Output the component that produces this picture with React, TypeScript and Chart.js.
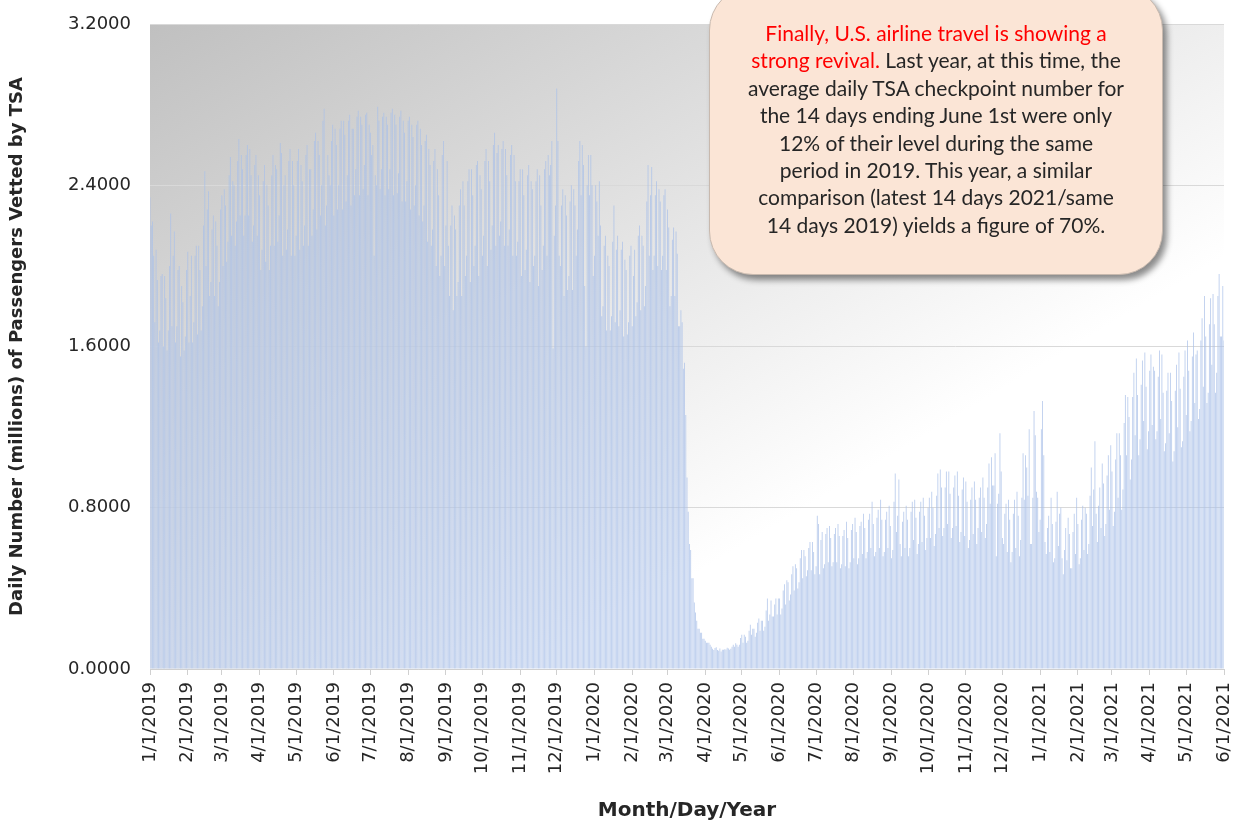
import React, { useEffect, useRef } from 'react';
import { Chart, registerables } from 'chart.js';

Chart.register(...registerables);

// Daily TSA checkpoint throughput, millions of passengers
const pax2019: number[] = [
  // Jan
  2.34, 2.20, 2.22, 2.05, 1.72, 2.08, 1.93, 1.62, 1.68, 1.95, 1.96, 1.60, 1.95, 1.84, 1.58, 1.68, 2.00, 2.26, 1.70, 2.05, 2.17, 1.62, 1.70, 1.98, 2.00, 1.55, 1.90, 1.82, 1.58, 1.65, 1.98,
  // Feb
  2.07, 1.62, 1.85, 2.05, 1.62, 1.72, 2.05, 2.10, 1.66, 2.10, 1.98, 1.68, 1.80, 2.20, 2.47, 2.00, 2.28, 2.37, 1.85, 1.92, 2.18, 2.25, 1.85, 2.22, 2.10, 1.80, 1.92, 2.28,
  // Mar
  2.35, 2.00, 2.38, 2.30, 2.02, 2.12, 2.45, 2.54, 2.15, 2.42, 2.40, 2.10, 2.22, 2.52, 2.63, 2.25, 2.55, 2.48, 2.15, 2.25, 2.55, 2.60, 2.25, 2.58, 2.45, 2.12, 2.20, 2.50, 2.55, 2.15, 2.45,
  // Apr
  2.35, 1.98, 2.08, 2.42, 2.50, 2.02, 2.40, 2.30, 1.98, 2.10, 2.45, 2.55, 2.10, 2.50, 2.48, 2.12, 2.25, 2.61, 2.56, 2.05, 2.40, 2.45, 2.08, 2.18, 2.52, 2.58, 2.05, 2.52, 2.40, 2.05,
  // May
  2.15, 2.52, 2.58, 2.08, 2.50, 2.42, 2.10, 2.20, 2.55, 2.60, 2.10, 2.48, 2.48, 2.15, 2.28, 2.62, 2.66, 2.18, 2.62, 2.55, 2.25, 2.40, 2.72, 2.78, 2.20, 2.30, 2.55, 2.45, 2.40, 2.62, 2.70,
  // Jun
  2.25, 2.68, 2.60, 2.28, 2.40, 2.68, 2.72, 2.28, 2.72, 2.65, 2.32, 2.45, 2.72, 2.75, 2.30, 2.68, 2.68, 2.35, 2.48, 2.74, 2.77, 2.35, 2.74, 2.70, 2.38, 2.50, 2.75, 2.76, 2.35, 2.70,
  // Jul
  2.66, 2.55, 2.60, 2.05, 2.45, 2.40, 2.79, 2.72, 2.38, 2.48, 2.74, 2.76, 2.35, 2.74, 2.70, 2.38, 2.48, 2.76, 2.78, 2.35, 2.75, 2.70, 2.36, 2.46, 2.74, 2.77, 2.32, 2.72, 2.66, 2.32, 2.42,
  // Aug
  2.72, 2.74, 2.28, 2.70, 2.64, 2.30, 2.40, 2.70, 2.72, 2.25, 2.68, 2.60, 2.22, 2.30, 2.62, 2.65, 2.12, 2.58, 2.50, 2.10, 2.18, 2.52, 2.58, 2.00, 2.48, 2.35, 1.95, 2.05, 2.55, 2.62, 2.00,
  // Sep
  2.20, 2.52, 2.10, 1.85, 2.20, 2.30, 1.78, 2.25, 2.18, 1.85, 1.92, 2.30, 2.38, 1.85, 2.42, 2.30, 1.95, 2.05, 2.42, 2.48, 1.92, 2.48, 2.35, 2.00, 2.10, 2.50, 2.52, 1.95, 2.45, 2.38,
  // Oct
  2.05, 2.15, 2.52, 2.58, 2.00, 2.52, 2.42, 2.08, 2.20, 2.60, 2.66, 2.10, 2.56, 2.60, 2.15, 2.22, 2.58, 2.62, 2.10, 2.58, 2.45, 2.10, 2.18, 2.55, 2.60, 2.05, 2.55, 2.42, 2.05, 2.12, 2.42,
  // Nov
  2.48, 1.95, 2.48, 2.35, 1.98, 2.08, 2.45, 2.50, 1.92, 2.42, 2.38, 2.00, 2.05, 2.42, 2.48, 1.90, 2.45, 2.30, 1.98, 2.10, 2.48, 2.52, 2.05, 2.55, 2.45, 2.50, 2.62, 1.59, 2.15, 2.30,
  // Dec
  2.88, 2.62, 2.05, 2.00, 2.30, 2.38, 1.85, 2.35, 2.25, 1.88, 1.95, 2.32, 2.40, 1.88, 2.38, 2.30, 2.05, 2.18, 2.52, 2.62, 2.35, 2.60, 2.50, 1.90, 1.60, 2.40, 2.55, 2.35, 2.55, 2.40, 1.95,
];

const pax2020: number[] = [
  // Jan
  2.05, 2.40, 2.32, 2.15, 2.42, 2.20, 1.75, 1.80, 2.10, 2.15, 1.68, 2.05, 2.00, 1.68, 1.75, 2.12, 2.30, 1.72, 2.08, 2.15, 1.70, 1.78, 2.08, 2.12, 1.65, 2.03, 1.98, 1.66, 1.72, 2.05, 2.10,
  // Feb
  1.70, 1.95, 2.08, 1.75, 1.82, 2.15, 2.20, 1.78, 2.15, 2.10, 1.80, 1.90, 2.32, 2.50, 2.05, 2.35, 2.49, 1.98, 2.05, 2.35, 2.42, 2.00, 2.38, 2.32, 1.98, 2.05, 2.35, 2.38, 1.98,
  // Mar
  2.28, 2.19, 1.80, 1.85, 2.13, 2.19, 1.85, 2.17, 2.06, 1.70, 1.70, 1.78, 1.72, 1.49, 1.52, 1.26, 0.95, 0.78, 0.62, 0.59, 0.45, 0.45, 0.33, 0.28, 0.24, 0.20, 0.20, 0.18, 0.18, 0.15, 0.15,
  // Apr
  0.140, 0.130, 0.130, 0.130, 0.120, 0.110, 0.100, 0.094, 0.104, 0.108, 0.094, 0.090, 0.102, 0.087, 0.095, 0.095, 0.098, 0.097, 0.105, 0.102, 0.096, 0.100, 0.110, 0.120, 0.110, 0.128, 0.120, 0.110, 0.120, 0.154,
  // May
  0.17, 0.13, 0.17, 0.16, 0.13, 0.14, 0.19, 0.22, 0.17, 0.20, 0.20, 0.16, 0.18, 0.23, 0.25, 0.19, 0.24, 0.24, 0.19, 0.21, 0.29, 0.35, 0.24, 0.27, 0.34, 0.26, 0.26, 0.32, 0.35, 0.27, 0.35,
  // Jun
  0.35, 0.27, 0.30, 0.39, 0.42, 0.32, 0.44, 0.43, 0.34, 0.37, 0.47, 0.51, 0.39, 0.52, 0.50, 0.40, 0.43, 0.55, 0.59, 0.45, 0.59, 0.56, 0.46, 0.49, 0.60, 0.63, 0.49, 0.63, 0.58, 0.47,
  // Jul
  0.51, 0.76, 0.72, 0.47, 0.64, 0.68, 0.50, 0.52, 0.67, 0.70, 0.53, 0.71, 0.65, 0.51, 0.53, 0.67, 0.70, 0.53, 0.72, 0.66, 0.50, 0.52, 0.66, 0.69, 0.51, 0.73, 0.65, 0.50, 0.53, 0.69, 0.72,
  // Aug
  0.55, 0.75, 0.68, 0.52, 0.55, 0.71, 0.73, 0.57, 0.77, 0.70, 0.55, 0.58, 0.74, 0.77, 0.60, 0.83, 0.72, 0.56, 0.58, 0.75, 0.79, 0.60, 0.84, 0.74, 0.56, 0.58, 0.74, 0.78, 0.60, 0.81, 0.71,
  // Sep
  0.55, 0.59, 0.83, 0.97, 0.68, 0.76, 0.94, 0.62, 0.56, 0.73, 0.78, 0.60, 0.81, 0.74, 0.56, 0.60, 0.78, 0.83, 0.64, 0.84, 0.75, 0.57, 0.62, 0.78, 0.83, 0.63, 0.85, 0.76, 0.59, 0.65,
  // Oct
  0.80, 0.85, 0.65, 0.88, 0.80, 0.61, 0.67, 0.86, 0.97, 0.70, 0.99, 0.90, 0.66, 0.70, 0.90, 0.98, 0.72, 0.98, 0.87, 0.65, 0.70, 0.90, 0.96, 0.71, 0.98, 0.86, 0.63, 0.68, 0.89, 0.95, 0.66,
  // Nov
  0.93, 0.83, 0.60, 0.64, 0.84, 0.90, 0.67, 0.93, 0.84, 0.62, 0.70, 0.85, 0.90, 0.68, 0.95, 0.85, 0.65, 0.72, 0.90, 1.02, 0.82, 1.05, 0.91, 0.91, 1.07, 0.56, 0.82, 0.87, 1.17, 0.98,
  // Dec
  0.65, 0.62, 0.77, 0.82, 0.58, 0.84, 0.74, 0.53, 0.58, 0.77, 0.84, 0.60, 0.88, 0.76, 0.56, 0.64, 0.85, 1.07, 0.84, 1.06, 1.00, 0.86, 1.19, 0.62, 0.62, 0.85, 1.28, 1.16, 0.88, 0.85, 0.68,
];

const pax2021: number[] = [
  // Jan
  0.74, 1.19, 1.33, 1.06, 0.63, 0.57, 0.70, 0.76, 0.58, 0.85, 0.72, 0.53, 0.55, 0.73, 0.88, 0.61, 0.77, 0.80, 0.55, 0.47, 0.59, 0.70, 0.54, 0.75, 0.67, 0.50, 0.50, 0.68, 0.77, 0.57, 0.85,
  // Feb
  0.72, 0.52, 0.55, 0.74, 0.81, 0.59, 0.80, 0.77, 0.57, 0.62, 0.86, 1.00, 0.71, 0.89, 1.13, 0.77, 0.63, 0.81, 0.90, 0.70, 1.02, 0.92, 0.66, 0.72, 0.96, 1.06, 0.79, 1.11,
  // Mar
  0.98, 0.71, 0.78, 1.04, 1.17, 0.85, 1.17, 1.06, 0.79, 0.89, 1.22, 1.36, 1.06, 1.35, 1.25, 0.94, 1.04, 1.35, 1.47, 1.16, 1.54, 1.36, 1.06, 1.14, 1.41, 1.53, 1.23, 1.57, 1.40, 1.09, 1.18,
  // Apr
  1.48, 1.56, 1.21, 1.50, 1.48, 1.14, 1.18, 1.45, 1.58, 1.24, 1.56, 1.37, 1.08, 1.12, 1.38, 1.47, 1.17, 1.47, 1.33, 1.03, 1.08, 1.38, 1.51, 1.20, 1.57, 1.39, 1.10, 1.13, 1.45, 1.58,
  // May
  1.26, 1.63, 1.48, 1.18, 1.23, 1.55, 1.67, 1.32, 1.56, 1.58, 1.24, 1.29, 1.63, 1.74, 1.40, 1.85, 1.65, 1.32, 1.37, 1.71, 1.84, 1.51, 1.86, 1.71, 1.37, 1.47, 1.85, 1.96, 1.65, 1.65, 1.90,
  // Jun
  1.63,
];

const yTickValues: number[] = [0, 0.8, 1.6, 2.4, 3.2];
const yAxisTitle = 'Daily Number (millions) of Passengers Vetted by TSA';
const xAxisTitle = 'Month/Day/Year';

const seriesValues: number[] = [...pax2019, ...pax2020, ...pax2021];

function buildDateLabels(count: number): string[] {
  const out: string[] = [];
  const d = new Date(Date.UTC(2019, 0, 1));
  for (let i = 0; i < count; i++) {
    out.push(`${d.getUTCMonth() + 1}/${d.getUTCDate()}/${d.getUTCFullYear()}`);
    d.setUTCDate(d.getUTCDate() + 1);
  }
  return out;
}

const dateLabels = buildDateLabels(seriesValues.length);
const monthStartIndices = dateLabels
  .map((l, i) => (/^\d+\/1\//.test(l) ? i : -1))
  .filter((i) => i >= 0);

const backgroundPlugin = {
  id: 'plotBackground',
  beforeDraw(chart: any) {
    const { ctx, chartArea } = chart;
    if (!chartArea) return;
    const { left, top, right, bottom } = chartArea;
    ctx.save();
    ctx.translate(left, top);
    ctx.scale(right - left, bottom - top);
    const g = ctx.createLinearGradient(0, 0, 1, 1);
    g.addColorStop(0, '#c0c0c0');
    g.addColorStop(0.68, '#ffffff');
    g.addColorStop(1, '#ffffff');
    ctx.fillStyle = g;
    ctx.fillRect(0, 0, 1, 1);
    ctx.restore();
  },
};

export default function App() {
  const canvasRef = useRef<HTMLCanvasElement | null>(null);

  useEffect(() => {
    if (!canvasRef.current) return;
    const chart = new Chart(canvasRef.current, {
      type: 'bar',
      data: {
        labels: dateLabels,
        datasets: [
          {
            label: 'TSA checkpoint travel numbers',
            data: seriesValues,
            backgroundColor: 'rgba(170,193,233,0.8)',
            borderWidth: 0,
            barPercentage: 0.72,
            categoryPercentage: 1,
          },
        ],
      },
      options: {
        responsive: false,
        animation: false,
        layout: { padding: { left: 0, right: 20, top: 24, bottom: 0 } },
        plugins: {
          legend: { display: false },
          tooltip: { enabled: false },
        },
        scales: {
          x: {
            offset: false,
            grid: {
              display: true,
              offset: false,
              drawOnChartArea: false,
              drawTicks: true,
              tickLength: 6,
              color: '#d0d0d0',
            },
            border: { display: true, color: '#d0d0d0', width: 1 },
            ticks: {
              autoSkip: false,
              maxRotation: 90,
              minRotation: 90,
              padding: 7,
              color: '#262626',
              font: { family: 'DejaVu Sans', size: 18 },
            },
            title: {
              display: true,
              text: xAxisTitle,
              color: '#262626',
              font: { family: 'DejaVu Sans', size: 20, weight: 'bold' },
              padding: { top: 0, bottom: 0 },
            },
            afterBuildTicks: (scale: any) => {
              scale.ticks = monthStartIndices.map((i) => ({ value: i }));
            },
            afterFit: (scale: any) => {
              scale.height = 154;
              scale.paddingLeft = 0;
              scale.paddingRight = 0;
            },
          },
          y: {
            min: 0,
            max: 3.2,
            grid: { color: '#d9d9d9', drawTicks: false, lineWidth: 1 },
            border: { display: false },
            ticks: {
              padding: 19,
              color: '#262626',
              font: { family: 'DejaVu Sans', size: 18 },
              callback: (v: any) => Number(v).toFixed(4),
            },
            afterBuildTicks: (scale: any) => {
              scale.ticks = yTickValues.map((v) => ({ value: v }));
            },
            title: {
              display: true,
              text: yAxisTitle,
              color: '#262626',
              font: { family: 'DejaVu Sans', size: 18, weight: 'bold' },
              padding: { top: 7, bottom: 0 },
            },
            afterFit: (scale: any) => {
              scale.width = 150;
              scale.paddingTop = 0;
              scale.paddingBottom = 0;
            },
          },
        },
      },
      plugins: [backgroundPlugin],
    } as any);
    return () => chart.destroy();
  }, []);

  const lineStyle: React.CSSProperties = { whiteSpace: 'nowrap' };

  return (
    <div style={{ position: 'absolute', left: 0, top: 0, width: 1244, height: 823, overflow: 'hidden', background: '#ffffff' }}>
      <canvas ref={canvasRef} width={1244} height={823} style={{ display: 'block', width: 1244, height: 823 }} />
      <div
        style={{
          position: 'absolute',
          left: 709,
          top: -14,
          width: 454,
          height: 289,
          boxSizing: 'border-box',
          borderRadius: 44,
          background: '#fbe5d6',
          border: '1px solid #c8b9ae',
          boxShadow: '4px 5px 6px rgba(0,0,0,0.45)',
        }}
      />
      <div
        style={{
          position: 'absolute',
          left: 709,
          top: 19,
          width: 454,
          textAlign: 'center',
          fontFamily: 'Lato, "Open Sans", sans-serif',
          fontSize: 21,
          lineHeight: '27.4px',
          color: '#262626',
        }}
      >
        <div style={lineStyle}><span style={{ color: '#ff0000' }}>Finally, U.S. airline travel is showing a</span></div>
        <div style={lineStyle}><span style={{ color: '#ff0000' }}>strong revival.</span> Last year, at this time, the</div>
        <div style={lineStyle}>average daily TSA checkpoint number for</div>
        <div style={lineStyle}>the 14 days ending June 1st were only</div>
        <div style={lineStyle}>12% of their level during the same</div>
        <div style={lineStyle}>period in 2019. This year, a similar</div>
        <div style={lineStyle}>comparison (latest 14 days 2021/same</div>
        <div style={lineStyle}>14 days 2019) yields a figure of 70%.</div>
      </div>
    </div>
  );
}
